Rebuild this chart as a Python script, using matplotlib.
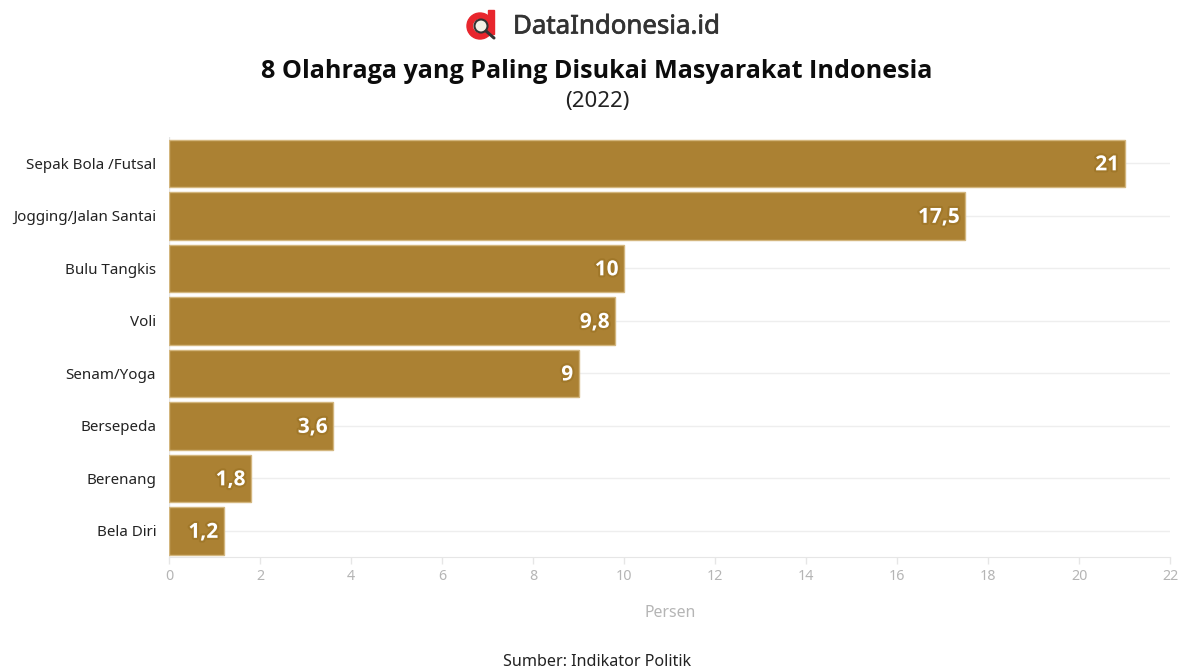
import matplotlib
matplotlib.use("Agg")
import matplotlib.pyplot as plt
import matplotlib.patheffects as pe
from matplotlib.patches import Circle, Rectangle, Wedge

plt.rcParams['font.family'] = ['Noto Sans', 'DejaVu Sans']

sports = ["Sepak Bola /Futsal", "Jogging/Jalan Santai", "Bulu Tangkis", "Voli",
          "Senam/Yoga", "Bersepeda", "Berenang", "Bela Diri"]
values = [21, 17.5, 10, 9.8, 9, 3.6, 1.8, 1.2]
value_labels = ["21", "17,5", "10", "9,8", "9", "3,6", "1,8", "1,2"]
x_ticks = list(range(0, 23, 2))

W, H = 1192, 671
fig = plt.figure(figsize=(W / 100, H / 100), dpi=100)

# main axes, placed in pixels
left, right, top, bottom = 169.2, 1170.2, 137.2, 557.2
ax = fig.add_axes([left / W, 1 - bottom / H, (right - left) / W, (bottom - top) / H])

y = list(range(len(sports)))
ax.set_xlim(0, 22)
ax.set_ylim(len(sports) - 0.5, -0.5)
ax.set_axisbelow(True)
ax.grid(axis='y', color='#eeeeee', lw=1)
ax.barh(y, values, height=0.91, color='#ab8133', edgecolor='#d3b67e', lw=1, zorder=3)

for i, v in enumerate(values):
    ax.annotate(value_labels[i], (v, i), xytext=(-4, -1), textcoords='offset points',
                ha='right', va='center', color='white', fontsize=15, family='Open Sans',
                fontweight='bold', zorder=4,
                path_effects=[pe.withStroke(linewidth=3, foreground='#a07729')])

ax.set_yticks(y, sports)
ax.set_xticks(x_ticks)
ax.tick_params(axis='y', length=0, pad=9.5, labelsize=10.9, labelcolor='#222222')
ax.tick_params(axis='x', length=5, width=1, color='#e6e6e6', pad=3.5, labelsize=10.3, labelcolor='#b5b5b5')
for s in ['top', 'right', 'left']:
    ax.spines[s].set_visible(False)
ax.spines['bottom'].set_color('#e6e6e6')
ax.axvline(0, color='#e6e6e6', lw=1, zorder=1)

fig.text(670 / W, 1 - 613 / H, "Persen", ha='center', va='center', fontsize=11.4, color='#b5b5b5')
fig.text(597 / W, 1 - 72 / H, "8 Olahraga yang Paling Disukai Masyarakat Indonesia",
         ha='center', va='center', fontsize=18.1, family='Open Sans', fontweight='bold',
         color='#0c0c0c')
fig.text(597 / W, 1 - 102 / H, "(2022)", ha='center', va='center', fontsize=16, color='#222222')
fig.text(597 / W, 1 - 662 / H, "Sumber: Indikator Politik", ha='center', va='center',
         fontsize=11.6, color='#222222')
fig.text(513 / W, 1 - 27 / H, "DataIndonesia.id", ha='left', va='center', fontsize=18.6,
         color='#333333', path_effects=[pe.withStroke(linewidth=0.5, foreground='#333333')])

# logo drawn on a full-figure overlay in pixel coordinates
logo = fig.add_axes([0, 0, 1, 1], facecolor='none')
logo.set_xlim(0, W)
logo.set_ylim(H, 0)
logo.axis('off')
logo.add_patch(Wedge((480, 26), 13, 0, 360, width=5.5, color='#e8262d'))
logo.add_patch(Rectangle((488, 10), 5.5, 24, color='#e8262d'))
logo.add_patch(Circle((481, 26), 6.5, fc='#f4f0e6', ec='#333333', lw=1.5))
logo.plot([486, 494], [31, 38], color='#333333', lw=2.2, solid_capstyle='round')

fig.savefig("out.png", dpi=100)
